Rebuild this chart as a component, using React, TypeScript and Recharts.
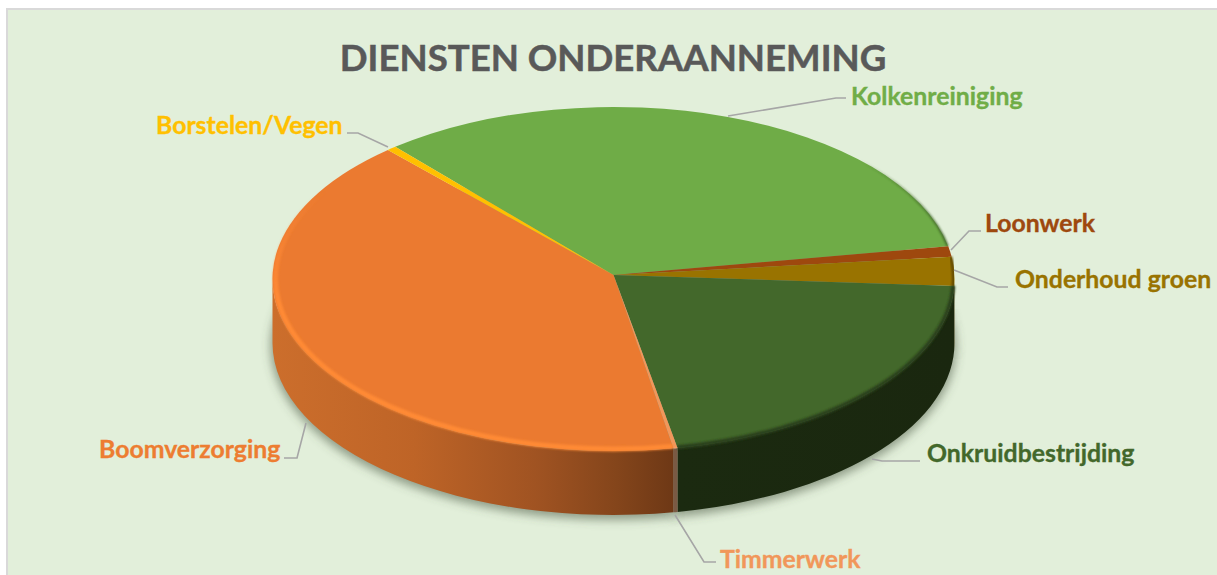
import { Pie, PieChart } from "recharts";

const categories = [
  "Kolkenreiniging",
  "Loonwerk",
  "Onderhoud groen",
  "Onkruidbestrijding",
  "Timmerwerk",
  "Boomverzorging",
  "Borstelen/Vegen",
];
const shares = [33.0, 1.0, 2.7, 21.35, 0.2, 41.3, 0.45];
const topColors = ["#6FAC47", "#9E480E", "#997300", "#43682B", "#F1975A", "#EB7A30", "#FFC000"];
const labelColors = ["#70AD47", "#9E480E", "#997300", "#43682B", "#F1975A", "#ED7D31", "#FFC000"];
const wallFills = [
  "#4b7530",
  "#6a300a",
  "#4a3800",
  "url(#wallGreen)",
  "#7A5A44",
  "url(#wallOrange)",
  "#a88000",
];
const rimStrokes = ["url(#rimKolk)", "none", "#5e4700", "#2A3F1B", "#F6B48C", "url(#rimBoom)", "none"];
const rimWidths = [2, 0, 3, 4, 1, 5, 0];
const rimInsets = [0.5, 0, 1, 1, 0, 3, 0];

const data = categories.map((name, i) => ({ name, value: shares[i], index: i }));

// label anchors + leader lines
const labelAt: [number, number][] = [
  [851, 105],
  [985, 232],
  [1015, 288],
  [927, 462],
  [720, 568],
  [99, 458],
  [156, 134],
];
const leaders = [
  "728,116 836,98 846,98",
  "951,250 969,231 981,231",
  "954,270 997,287 1008,287",
  "872,459 882,461 920,461",
  "675,515 704,562 716,562",
  "306,423 297,458 284,458",
  "388,147 358,133 347,133",
];

const CX = 613.5;
const CY = 279;
const APEX_Y = 275;
const RX = 341;
const RY = 172;
const DEPTH = 64;
const START = 129.8;

const rim = (deg: number, rx = RX, ry = RY, dy = 0) => {
  const a = (deg * Math.PI) / 180;
  return `${(CX + rx * Math.cos(a)).toFixed(2)} ${(CY + dy - ry * Math.sin(a)).toFixed(2)}`;
};

function TopSlice(props: any) {
  const { startAngle, endAngle, index } = props;
  const large = Math.abs(startAngle - endAngle) > 180 ? 1 : 0;
  const d = `M${CX} ${APEX_Y} L${rim(startAngle)} A${RX} ${RY} 0 ${large} 1 ${rim(endAngle)} Z`;
  const ix = rimInsets[index];
  const inner = `M${rim(startAngle, RX - ix, RY - ix / 1.5)} A${RX - ix} ${RY - ix / 1.5} 0 ${large} 1 ${rim(endAngle, RX - ix, RY - ix / 1.5)}`;
  const stroke = rimStrokes[index];
  return (
    <g>
      <path d={d} fill={topColors[index]} />
      {stroke !== "none" && (
        <path d={inner} fill="none" stroke={stroke} strokeWidth={rimWidths[index]} filter="url(#soft)" />
      )}
    </g>
  );
}

function WallSlice(props: any) {
  const { startAngle, endAngle, index } = props;
  const parts: string[] = [];
  for (const k of [-360, 0, 360]) {
    const hi = Math.min(startAngle + k, 0);
    const lo = Math.max(endAngle + k, -180);
    if (hi > lo) {
      parts.push(
        `M${rim(hi)} A${RX} ${RY} 0 0 1 ${rim(lo)} L${rim(lo, RX, RY, DEPTH)} A${RX} ${RY} 0 0 0 ${rim(hi, RX, RY, DEPTH)} Z`,
      );
    }
  }
  return <path d={parts.join(" ")} fill={wallFills[index]} />;
}

function ShadowSlice(props: any) {
  const { startAngle, endAngle } = props;
  const large = Math.abs(startAngle - endAngle) > 180 ? 1 : 0;
  const d = `M${CX} ${CY + DEPTH} L${rim(startAngle, RX + 2, RY + 2, DEPTH + 3)} A${RX + 2} ${RY + 2} 0 ${large} 1 ${rim(endAngle, RX + 2, RY + 2, DEPTH + 3)} Z`;
  return <path d={d} fill="#4a5a45" fillOpacity={0.55} filter="url(#shadowBlur)" />;
}

function SliceLabel(props: any) {
  const i = props.index;
  return (
    <g>
      <polyline points={leaders[i]} fill="none" stroke="#A6A6A6" strokeWidth={1.6} />
      <text
        x={labelAt[i][0]}
        y={labelAt[i][1]}
        fill={labelColors[i]}
        stroke={labelColors[i]}
        strokeWidth={0.35}
        fontFamily="Lato, sans-serif"
        fontWeight={700}
        fontSize={24.8}
      >
        {categories[i]}
      </text>
    </g>
  );
}

export default function App() {
  const pieProps = {
    data,
    dataKey: "value",
    nameKey: "name",
    cx: CX,
    cy: CY,
    innerRadius: 0,
    outerRadius: RX,
    startAngle: START,
    endAngle: START - 360,
    stroke: "none",
    isAnimationActive: false,
  };

  return (
    <div style={{ position: "absolute", left: 0, top: 0, width: 1217, height: 575, background: "#fff", overflow: "hidden" }}>
      <div
        style={{
          position: "absolute",
          left: 6,
          top: 8,
          width: 1217,
          height: 575,
          background: "#E2EFDA",
          border: "2px solid #D9D9D9",
        }}
      />
      <div style={{ position: "absolute", left: 0, top: 0 }}>
        <PieChart width={1217} height={575} margin={{ top: 0, right: 0, bottom: 0, left: 0 }}>
          <defs>
            <filter id="shadowBlur" x="-10%" y="-10%" width="120%" height="130%">
              <feGaussianBlur stdDeviation="5" />
            </filter>
            <filter id="soft" x="-5%" y="-5%" width="110%" height="110%">
              <feGaussianBlur stdDeviation="0.8" />
            </filter>
            <linearGradient id="wallOrange" gradientUnits="userSpaceOnUse" x1="272" y1="0" x2="678" y2="0">
              <stop offset="0%" stopColor="#CC6E2C" />
              <stop offset="35%" stopColor="#BE6427" />
              <stop offset="65%" stopColor="#A05322" />
              <stop offset="85%" stopColor="#84451B" />
              <stop offset="100%" stopColor="#6C3715" />
            </linearGradient>
            <linearGradient id="wallGreen" gradientUnits="userSpaceOnUse" x1="678" y1="0" x2="955" y2="0">
              <stop offset="0%" stopColor="#1B2A10" />
              <stop offset="100%" stopColor="#1A270F" />
            </linearGradient>
            <linearGradient id="rimBoom" gradientUnits="userSpaceOnUse" x1="0" y1="190" x2="0" y2="300">
              <stop offset="0%" stopColor="#FF8A35" stopOpacity={0} />
              <stop offset="100%" stopColor="#FF8A35" />
            </linearGradient>
            <linearGradient id="rimKolk" gradientUnits="userSpaceOnUse" x1="860" y1="0" x2="945" y2="0">
              <stop offset="0%" stopColor="#3C5E26" stopOpacity={0} />
              <stop offset="100%" stopColor="#3C5E26" />
            </linearGradient>
          </defs>
          <text
            x={613}
            y={71}
            textAnchor="middle"
            fill="#595959"
            stroke="#595959"
            strokeWidth={0.5}
            fontFamily="Lato, sans-serif"
            fontWeight={700}
            fontSize={36.6}
          >
            DIENSTEN ONDERAANNEMING
          </text>
          <Pie {...pieProps} shape={ShadowSlice} />
          <Pie {...pieProps} shape={WallSlice} />
          <Pie {...pieProps} shape={TopSlice} label={SliceLabel} labelLine={false} />
        </PieChart>
      </div>
    </div>
  );
}
